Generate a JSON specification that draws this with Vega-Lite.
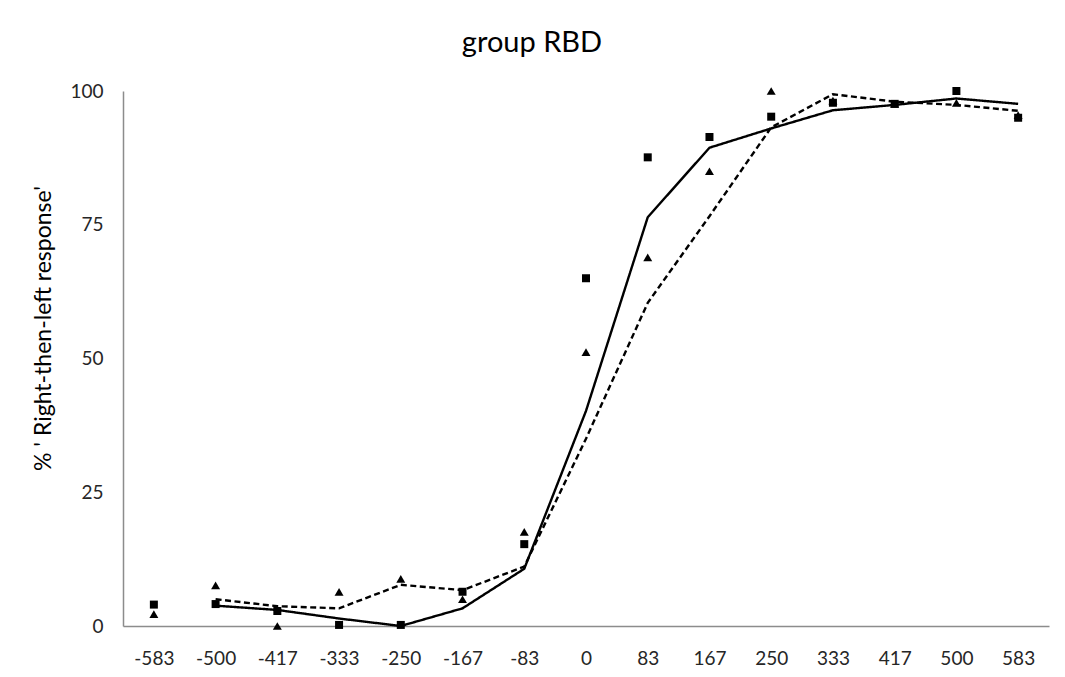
{
  "$schema": "https://vega.github.io/schema/vega-lite/v6.json",
  "width": 926,
  "height": 535,
  "autosize": "none",
  "padding": {"left": 123, "top": 91, "right": 16, "bottom": 51},
  "background": "white",
  "title": {"text": "group RBD", "fontSize": 29, "font": "Lato", "fontWeight": "normal", "color": "#000000", "anchor": "middle", "dx": -54, "offset": 24},
  "config": {
    "view": {"stroke": null},
    "font": "Lato"
  },
  "data": {
    "values": [
      {"x": "-583", "series": "square", "value": 4, "fit": null},
      {"x": "-500", "series": "square", "value": 4.1, "fit": 3.8},
      {"x": "-417", "series": "square", "value": 2.8, "fit": 3.0},
      {"x": "-333", "series": "square", "value": 0.2, "fit": 1.4},
      {"x": "-250", "series": "square", "value": 0.2, "fit": 0},
      {"x": "-167", "series": "square", "value": 6.4, "fit": 3.3},
      {"x": "-83", "series": "square", "value": 15.3, "fit": 10.7},
      {"x": "0", "series": "square", "value": 65, "fit": 40.2},
      {"x": "83", "series": "square", "value": 87.6, "fit": 76.4},
      {"x": "167", "series": "square", "value": 91.4, "fit": 89.4},
      {"x": "250", "series": "square", "value": 95.2, "fit": 93},
      {"x": "333", "series": "square", "value": 97.8, "fit": 96.4},
      {"x": "417", "series": "square", "value": 97.6, "fit": 97.4},
      {"x": "500", "series": "square", "value": 100, "fit": 98.6},
      {"x": "583", "series": "square", "value": 95, "fit": 97.6},
      {"x": "-583", "series": "triangle", "value": 2.2, "fit": null},
      {"x": "-500", "series": "triangle", "value": 7.6, "fit": 5},
      {"x": "-417", "series": "triangle", "value": 0, "fit": 3.7},
      {"x": "-333", "series": "triangle", "value": 6.4, "fit": 3.3},
      {"x": "-250", "series": "triangle", "value": 8.8, "fit": 7.7},
      {"x": "-167", "series": "triangle", "value": 5, "fit": 6.7},
      {"x": "-83", "series": "triangle", "value": 17.6, "fit": 11.1},
      {"x": "0", "series": "triangle", "value": 51.2, "fit": 35},
      {"x": "83", "series": "triangle", "value": 68.9, "fit": 60.4},
      {"x": "167", "series": "triangle", "value": 85, "fit": 76.6},
      {"x": "250", "series": "triangle", "value": 100, "fit": 93.2},
      {"x": "333", "series": "triangle", "value": 98.2, "fit": 99.4},
      {"x": "417", "series": "triangle", "value": 97.6, "fit": 98},
      {"x": "500", "series": "triangle", "value": 97.8, "fit": 97.4},
      {"x": "583", "series": "triangle", "value": 95.5, "fit": 96.3}
    ]
  },
  "encoding": {
    "x": {
      "field": "x", "type": "ordinal",
      "sort": ["-583", "-500", "-417", "-333", "-250", "-167", "-83", "0", "83", "167", "250", "333", "417", "500", "583"],
      "scale": {"type": "point", "padding": 0.5},
      "axis": {"title": null, "labelAngle": 0, "ticks": false, "labelPadding": 23, "labelFontSize": 19, "labelColor": "#262626", "domainColor": "#8c8c8c", "domainWidth": 1.5, "grid": false}
    }
  },
  "layer": [
    {
      "mark": {"type": "line", "color": "black", "strokeWidth": 2.4},
      "encoding": {
        "y": {"field": "fit", "type": "quantitative"},
        "detail": {"field": "series"},
        "strokeDash": {
          "field": "series", "type": "nominal",
          "scale": {"domain": ["square", "triangle"], "range": [[1, 0], [6, 3.5]]},
          "legend": null
        }
      }
    },
    {
      "mark": {"type": "point", "filled": true, "color": "black", "opacity": 1},
      "encoding": {
        "y": {
          "field": "value", "type": "quantitative",
          "scale": {"domain": [0, 100], "nice": false},
          "axis": {"title": "% ' Right-then-left response'", "titleFontSize": 23, "titleFontWeight": "normal", "titleColor": "#000000", "titlePadding": 26, "titleY": 237, "titleBaseline": "middle", "values": [0, 25, 50, 75, 100], "ticks": false, "labelPadding": 20, "labelFontSize": 19, "labelColor": "#262626", "domainColor": "#8c8c8c", "domainWidth": 1.5, "grid": false}
        },
        "shape": {
          "field": "series", "type": "nominal",
          "scale": {"domain": ["square", "triangle"], "range": ["square", "triangle-up"]},
          "legend": null
        },
        "size": {
          "field": "series", "type": "nominal",
          "scale": {"domain": ["square", "triangle"], "range": [64, 80]},
          "legend": null
        }
      }
    }
  ]
}
